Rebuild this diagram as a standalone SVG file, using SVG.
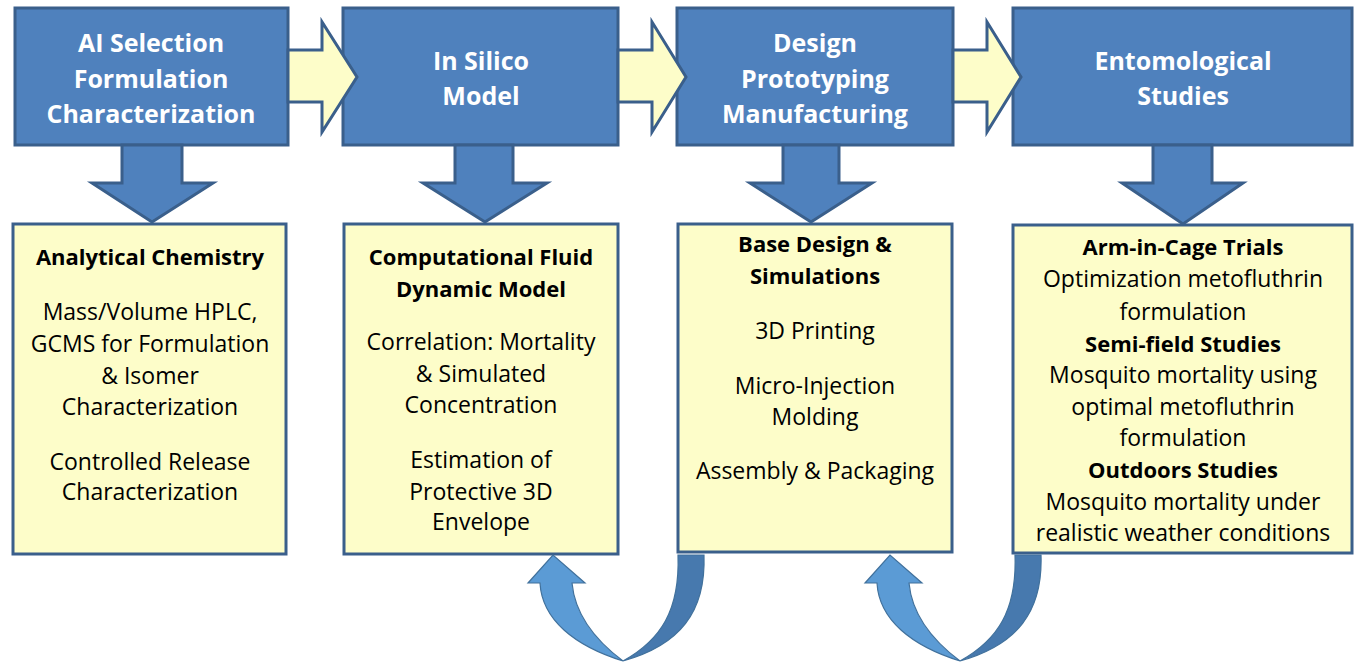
<svg xmlns="http://www.w3.org/2000/svg" width="1356" height="664" viewBox="0 0 1356 664">
<style>
.top{fill:#4f81bd;stroke:#3a5f8b;stroke-width:3}
.bot{fill:#fdfdc9;stroke:#3a5f8b;stroke-width:3}
.harr{fill:#fdfdc9;stroke:#3a5f8b;stroke-width:3;stroke-linejoin:miter}
.darr{fill:#4f81bd;stroke:#3a5f8b;stroke-width:3;stroke-linejoin:miter}
.cl{fill:#5b9bd5;stroke:#41719c;stroke-width:1.2}
.cd{fill:#4779ae;stroke:#41719c;stroke-width:1.2}
text{font-family:"Open Sans",Lato,"Liberation Sans",sans-serif;text-anchor:middle}
.tt{fill:#fff;font-weight:bold;font-size:25px}
.bt{fill:#000;font-size:23px}
.b{font-weight:bold;font-size:22px}
</style>
<rect width="1356" height="664" fill="#fff"/>
<g id="node-ai">
<rect class="top" x="15" y="8" width="273" height="137"/>
<text class="tt" x="151" y="52">AI Selection</text>
<text class="tt" x="151" y="88">Formulation</text>
<text class="tt" x="151" y="123">Characterization</text>
</g>
<g id="node-insilico">
<rect class="top" x="343" y="8" width="275" height="137"/>
<text class="tt" x="481" y="70">In Silico</text>
<text class="tt" x="481" y="105">Model</text>
</g>
<g id="node-design">
<rect class="top" x="677" y="8" width="276" height="137"/>
<text class="tt" x="815" y="52">Design</text>
<text class="tt" x="815" y="88">Prototyping</text>
<text class="tt" x="815" y="123">Manufacturing</text>
</g>
<g id="node-ento">
<rect class="top" x="1013" y="8" width="339" height="137"/>
<text class="tt" x="1183" y="70">Entomological</text>
<text class="tt" x="1183" y="105">Studies</text>
</g>
<g id="node-analytical">
<rect class="bot" x="13" y="224" width="273" height="330"/>
<text class="bt b" x="150" y="265">Analytical Chemistry</text>
<text class="bt" x="150" y="320">Mass/Volume HPLC,</text>
<text class="bt" x="150" y="352">GCMS for Formulation</text>
<text class="bt" x="150" y="384">&amp; Isomer</text>
<text class="bt" x="150" y="415">Characterization</text>
<text class="bt" x="150" y="470">Controlled Release</text>
<text class="bt" x="150" y="500">Characterization</text>
</g>
<g id="node-cfd">
<rect class="bot" x="344" y="224" width="274" height="330"/>
<text class="bt b" x="481" y="265">Computational Fluid</text>
<text class="bt b" x="481" y="297">Dynamic Model</text>
<text class="bt" x="481" y="350">Correlation: Mortality</text>
<text class="bt" x="481" y="382">&amp; Simulated</text>
<text class="bt" x="481" y="413">Concentration</text>
<text class="bt" x="481" y="468">Estimation of</text>
<text class="bt" x="481" y="500">Protective 3D</text>
<text class="bt" x="481" y="530">Envelope</text>
</g>
<g id="node-base">
<rect class="bot" x="678" y="224" width="274" height="328"/>
<text class="bt b" x="815" y="252">Base Design &amp;</text>
<text class="bt b" x="815" y="284">Simulations</text>
<text class="bt" x="815" y="339">3D Printing</text>
<text class="bt" x="815" y="394">Micro-Injection</text>
<text class="bt" x="815" y="425">Molding</text>
<text class="bt" x="815" y="479">Assembly &amp; Packaging</text>
</g>
<g id="node-trials">
<rect class="bot" x="1013" y="225" width="339" height="328"/>
<text class="bt b" x="1183" y="255">Arm-in-Cage Trials</text>
<text class="bt" x="1183" y="287">Optimization metofluthrin</text>
<text class="bt" x="1183" y="320">formulation</text>
<text class="bt b" x="1183" y="352">Semi-field Studies</text>
<text class="bt" x="1183" y="383">Mosquito mortality using</text>
<text class="bt" x="1183" y="415">optimal metofluthrin</text>
<text class="bt" x="1183" y="446">formulation</text>
<text class="bt b" x="1183" y="478">Outdoors Studies</text>
<text class="bt" x="1183" y="510">Mosquito mortality under</text>
<text class="bt" x="1183" y="541">realistic weather conditions</text>
</g>
<g id="connectors">
<polygon class="harr" points="288,50 322,50 322,22 357,77 322,132 322,102 288,102"/>
<polygon class="harr" points="618,50 652,50 652,22 686,77 652,132 652,102 618,102"/>
<polygon class="harr" points="953,50 987,50 987,22 1021,77 987,132 987,102 953,102"/>
<polygon class="darr" points="122,145 122,183 92,183 152,222 213,183 182,183 182,145"/>
<polygon class="darr" points="455,145 455,183 423,183 485,222 547,183 513,183 513,145"/>
<polygon class="darr" points="783,145 783,183 750,183 811,222 872,183 839,183 839,145"/>
<polygon class="darr" points="1153,145 1153,183 1122,183 1183,224 1243,183 1212,183 1212,145"/>
<g id="loop1">
<path class="cd" d="M704,555 C706,612 680,645 623,661 C661,640 680,610 678,555 Z"/>
<path class="cl" d="M623,661 C575,646 542,620 540,583 L528,583 L553,555 L585,583 L572,583 C575,615 595,640 623,661 Z"/>
</g>
<g id="loop2" transform="translate(337,0)">
<path class="cd" d="M704,555 C706,612 680,645 623,661 C661,640 680,610 678,555 Z"/>
<path class="cl" d="M623,661 C575,646 542,620 540,583 L528,583 L553,555 L585,583 L572,583 C575,615 595,640 623,661 Z"/>
</g>
</g>
</svg>
